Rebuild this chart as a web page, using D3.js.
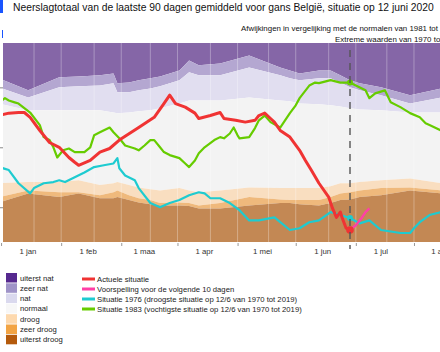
<!DOCTYPE html>
<html>
<head>
<meta charset="utf-8">
<script src="https://cdn.jsdelivr.net/npm/d3@7"></script>
<style>
body { margin: 0; background: #fff; }
svg { display: block; font-family: "Liberation Sans", Arial, Helvetica, sans-serif; }
</style>
</head>
<body>
<div class="svg_container"></div>
<script>
// grenzen van de klassen (mm neerslag over 90 dagen)
var bandDates = ["2019-12-14", "2019-12-29", "2020-01-14", "2020-01-24", "2020-02-04", "2020-02-11",
    "2020-02-13", "2020-02-19", "2020-02-24", "2020-03-01", "2020-03-06", "2020-03-16", "2020-03-21",
    "2020-03-26", "2020-04-06", "2020-04-21", "2020-05-07", "2020-05-12", "2020-05-17", "2020-05-27",
    "2020-06-02", "2020-06-07", "2020-06-12", "2020-06-17", "2020-06-28", "2020-07-13", "2020-07-29",
    "2020-08-05"];
var grensUiterstNat = [315, 295, 317, 318, 320, 323, 307, 308, 312, 315, 318, 328, 345, 337, 340, 353,
    333, 328, 323, 328, 328, 320, 312, 307, 300, 287, 298, 302];
var grensZeerNat = [300, 283, 300, 302, 303, 307, 292, 292, 295, 298, 302, 312, 325, 320, 320, 333,
    320, 315, 312, 315, 315, 308, 300, 295, 287, 273, 283, 287];
var grensNat = [273, 262, 262, 262, 262, 258, 257, 258, 260, 262, 265, 273, 278, 278, 278, 283,
    278, 277, 273, 272, 270, 268, 265, 263, 262, 258, 258, 258];
var grensDroog = [140, 142, 142, 145, 137, 140, 142, 137, 133, 130, 128, 132, 128, 125, 128, 133,
    132, 132, 132, 132, 135, 140, 140, 142, 145, 148, 140, 140];
var grensZeerDroog = [117, 128, 125, 125, 120, 125, 128, 120, 115, 112, 107, 108, 107, 103, 107, 117,
    113, 112, 112, 112, 117, 123, 125, 128, 132, 133, 128, 128];
var grensUiterstDroog = [108, 123, 117, 123, 115, 115, 117, 112, 108, 105, 103, 103, 102, 98, 98, 103,
    107, 107, 105, 103, 107, 112, 113, 117, 120, 128, 123, 123];

// actuele situatie
var actueelDates = ["2019-12-14", "2019-12-19", "2019-12-24", "2019-12-27", "2019-12-30", "2020-01-04",
    "2020-01-09", "2020-01-14", "2020-01-19", "2020-01-22", "2020-01-24", "2020-01-30", "2020-02-04",
    "2020-02-09", "2020-02-14", "2020-02-24", "2020-03-03", "2020-03-08", "2020-03-11", "2020-03-14",
    "2020-03-19", "2020-03-24", "2020-03-26", "2020-04-01", "2020-04-06", "2020-04-08", "2020-04-14",
    "2020-04-19", "2020-04-24", "2020-04-26", "2020-04-29", "2020-05-02", "2020-05-04", "2020-05-07",
    "2020-05-12", "2020-05-17", "2020-05-20", "2020-05-23", "2020-05-27", "2020-06-01", "2020-06-03",
    "2020-06-05", "2020-06-07", "2020-06-08", "2020-06-10", "2020-06-12"];
var actueelValues = [253, 257, 258, 258, 250, 228, 208, 200, 183, 175, 170, 178, 192, 198, 212, 233,
    250, 273, 287, 273, 267, 257, 248, 253, 258, 248, 245, 242, 245, 253, 257, 248, 242, 228, 217,
    195, 178, 162, 140, 117, 98, 83, 92, 82, 65, 62];

// voorspelling volgende 10 dagen
var voorspellingDates = ["2020-06-12", "2020-06-15", "2020-06-18", "2020-06-20", "2020-06-22"];
var voorspellingValues = [62, 70, 82, 92, 98];

// situatie 1976
var droog1976Dates = ["2019-12-14", "2019-12-19", "2019-12-24", "2019-12-30", "2020-01-01", "2020-01-06",
    "2020-01-11", "2020-01-14", "2020-01-17", "2020-01-22", "2020-01-27", "2020-02-01", "2020-02-06",
    "2020-02-11", "2020-02-13", "2020-02-14", "2020-02-17", "2020-02-22", "2020-02-24", "2020-03-01",
    "2020-03-06", "2020-03-11", "2020-03-16", "2020-03-21", "2020-03-26", "2020-03-29", "2020-04-01",
    "2020-04-06", "2020-04-11", "2020-04-16", "2020-04-21", "2020-04-26", "2020-05-04", "2020-05-12",
    "2020-05-17", "2020-05-22", "2020-05-27", "2020-06-02", "2020-06-07", "2020-06-12", "2020-06-17",
    "2020-06-22", "2020-06-28", "2020-07-08", "2020-07-13", "2020-07-15", "2020-07-18", "2020-07-23",
    "2020-07-29", "2020-08-03"];
var droog1976Values = [167, 162, 140, 123, 132, 140, 142, 145, 142, 150, 158, 167, 170, 173, 182, 165,
    153, 145, 132, 107, 100, 107, 112, 120, 125, 123, 115, 115, 107, 95, 78, 78, 83, 62, 65, 75, 78,
    92, 87, 82, 73, 78, 62, 57, 57, 65, 75, 87, 92, 95];

// situatie 1983
var nat1983Dates = ["2019-12-14", "2019-12-17", "2019-12-19", "2019-12-22", "2019-12-24", "2019-12-30",
    "2020-01-04", "2020-01-06", "2020-01-09", "2020-01-11", "2020-01-13", "2020-01-16", "2020-01-19",
    "2020-01-22", "2020-01-27", "2020-01-30", "2020-02-01", "2020-02-04", "2020-02-09", "2020-02-11",
    "2020-02-14", "2020-02-17", "2020-02-22", "2020-02-24", "2020-02-27", "2020-03-01", "2020-03-03",
    "2020-03-06", "2020-03-08", "2020-03-11", "2020-03-16", "2020-03-19", "2020-03-21", "2020-03-24",
    "2020-03-26", "2020-03-29", "2020-04-03", "2020-04-06", "2020-04-08", "2020-04-11", "2020-04-13",
    "2020-04-15", "2020-04-16", "2020-04-21", "2020-04-24", "2020-04-26", "2020-04-29", "2020-05-02",
    "2020-05-07", "2020-05-12", "2020-05-15", "2020-05-17", "2020-05-22", "2020-05-25", "2020-05-27",
    "2020-06-02", "2020-06-07", "2020-06-12", "2020-06-15", "2020-06-20", "2020-06-22", "2020-06-25",
    "2020-06-30", "2020-07-03", "2020-07-08", "2020-07-13", "2020-07-18", "2020-07-21", "2020-07-23",
    "2020-07-29", "2020-08-03"];
var nat1983Values = [275, 282, 278, 275, 273, 258, 237, 217, 212, 200, 183, 195, 198, 192, 192, 200,
    220, 225, 233, 225, 215, 203, 198, 195, 203, 212, 212, 200, 192, 187, 182, 173, 167, 178, 190,
    200, 212, 217, 215, 223, 233, 220, 215, 217, 232, 245, 253, 242, 233, 257, 270, 282, 303, 308,
    307, 312, 308, 308, 303, 295, 282, 290, 295, 275, 267, 257, 250, 240, 237, 228, 223];

var vandaag = "2020-06-12";
var yTicks = [100, 200, 300];
var monthLabels = ["1 jan", "1 feb", "1 maa", "1 apr", "1 mei", "1 jun", "1 jul", "1 aug"];

var klassen = ["uiterst nat", "zeer nat", "nat", "normaal", "droog", "zeer droog", "uiterst droog"];
var lijnen = ["Actuele situatie", "Voorspelling voor de volgende 10 dagen",
    "Situatie 1976 (droogste situatie op 12/6 van 1970 tot 2019)",
    "Situatie 1983 (vochtigste situatie op 12/6 van 1970 tot 2019)"];

const WIDTH = 440;
const HEIGHT = 352;
const LEFT = 3;
const TOP = 43;
const BOTTOM = 242;

var bandFill = ["#8566a7", "#b4a7d1", "#e1def0", "#f3f3f3", "#f9dec0", "#efb97c", "#c38854"];
var legendFill = ["#56298f", "#9f93c8", "#dad9ee", "#f7f7f7", "#fdd9ae", "#f2a444", "#b45a0c"];
var lineColor = ["#f03333", "#ff3fa6", "#1ecbd0", "#66cc00"];

var parse = d3.utcParse("%Y-%m-%d");

var x = d3.scaleUtc()
    .domain([parse("2019-12-16"), parse(vandaag)])
    .range([LEFT, 350]);

var y = d3.scaleLinear()
    .domain([42, 374])
    .range([BOTTOM, TOP]);

var svg = d3.select('.svg_container').append('svg')
    .attr('width', WIDTH)
    .attr('height', HEIGHT);

svg.append('clipPath').attr('id', 'plotclip')
    .append('rect')
    .attr('x', LEFT).attr('y', TOP)
    .attr('width', WIDTH - LEFT).attr('height', BOTTOM - TOP);

var plot = svg.append('g').attr('clip-path', 'url(#plotclip)');

// banden
var bandData = bandDates.map(function (d, i) {
    return {
        date: parse(d),
        b: [y.domain()[1], grensUiterstNat[i], grensZeerNat[i], grensNat[i],
            grensDroog[i], grensZeerDroog[i], grensUiterstDroog[i], y.domain()[0]]
    };
});

bandFill.forEach(function (c, k) {
    var area = d3.area()
        .x(function (d) { return x(d.date); })
        .y0(function (d) { return y(d.b[k + 1]); })
        .y1(function (d) { return y(d.b[k]); });
    plot.append('path')
        .attr('d', area(bandData))
        .attr('fill', c);
});

// rasterlijnen
var gridDates = [];
d3.utcMonths(parse("2019-12-01"), parse("2020-09-01")).forEach(function (m) {
    gridDates.push(m);
    gridDates.push(d3.utcDay.offset(m, 14));
});
plot.selectAll('.grid').data(gridDates).enter().append('line')
    .attr('x1', function (d) { return x(d); })
    .attr('x2', function (d) { return x(d); })
    .attr('y1', TOP).attr('y2', BOTTOM)
    .attr('stroke', '#fff')
    .attr('stroke-opacity', 0.3)
    .attr('stroke-width', 1);

var line = d3.line()
    .x(function (d) { return x(d.date); })
    .y(function (d) { return y(d.v); });

var toPoints = function (dates, values) {
    return dates.map(function (d, i) { return {date: parse(d), v: values[i]}; });
};

var series = [
    {pts: toPoints(nat1983Dates, nat1983Values), color: lineColor[3], w: 2.2},
    {pts: toPoints(droog1976Dates, droog1976Values), color: lineColor[2], w: 2.2},
    {pts: toPoints(actueelDates, actueelValues), color: lineColor[0], w: 3},
    {pts: toPoints(voorspellingDates, voorspellingValues), color: lineColor[1], w: 2.4}
];

series.forEach(function (s) {
    plot.append('path')
        .attr('d', line(s.pts))
        .attr('fill', 'none')
        .attr('stroke', s.color)
        .attr('stroke-width', s.w)
        .attr('stroke-linejoin', 'round');
});

// punten op vandaag
var today = parse(vandaag);
[{pts: series[0].pts, c: lineColor[3], r: 3}, {pts: series[1].pts, c: lineColor[2], r: 3},
    {pts: series[2].pts, c: lineColor[0], r: 3.8}].forEach(function (s) {
    var p = s.pts.filter(function (d) { return +d.date === +today; })[0];
    plot.append('circle')
        .attr('cx', x(p.date)).attr('cy', y(p.v))
        .attr('r', s.r).attr('fill', s.c);
});

// vandaag
svg.append('line')
    .attr('x1', x(today)).attr('x2', x(today))
    .attr('y1', 50).attr('y2', 249)
    .attr('stroke', '#555')
    .attr('stroke-width', 1.4)
    .attr('stroke-dasharray', '7,6');

// assen
var xAxis = d3.axisBottom(x)
    .tickValues(d3.utcMonths(parse("2019-12-01"), parse("2020-08-01")).map(function (m) {
        return d3.utcDay.offset(m, 14);
    }))
    .tickSize(3)
    .tickFormat("");
var gx = svg.append('g')
    .attr('transform', 'translate(0,' + (BOTTOM + 1) + ')')
    .call(xAxis);
gx.select('.domain').remove();
gx.selectAll('.tick line').attr('stroke', '#999');

var labelDates = d3.utcMonths(parse("2020-01-01"), parse("2020-08-02"));
svg.append('g').selectAll('text').data(labelDates).enter().append('text')
    .attr('x', function (d) { return x(d) - 6; })
    .attr('y', 254)
    .attr('text-anchor', 'middle')
    .attr('font-size', '7.8px')
    .attr('fill', '#333')
    .text(function (d, i) { return monthLabels[i]; });

var yAxis = d3.axisLeft(y).tickValues(yTicks).tickSize(3).tickFormat("");
var gy = svg.append('g')
    .attr('transform', 'translate(' + LEFT + ',0)')
    .call(yAxis);
gy.select('.domain').remove();
gy.selectAll('.tick line').attr('stroke', '#888');

// titels
svg.append('rect').attr('x', 0).attr('y', 0).attr('width', 3).attr('height', 13).attr('fill', '#1a55ff');
svg.append('rect').attr('x', 2).attr('y', 30).attr('width', 1).attr('height', 8).attr('fill', '#1a55ff');

svg.append('text')
    .attr('x', 13).attr('y', 11)
    .attr('font-size', '10.3px')
    .attr('fill', '#111')
    .text("Neerslagtotaal van de laatste 90 dagen gemiddeld voor gans België, situatie op 12 juni 2020");

svg.append('text')
    .attr('x', 241).attr('y', 31)
    .attr('font-size', '7.9px')
    .attr('fill', '#111')
    .text("Afwijkingen in vergelijking met de normalen van 1981 tot 2010");

svg.append('text')
    .attr('x', 335).attr('y', 41.5)
    .attr('font-size', '7.9px')
    .attr('fill', '#111')
    .text("Extreme waarden van 1970 tot 2019");

// legende
var legL = svg.append('g');
klassen.forEach(function (k, i) {
    var yy = 273 + i * 10.3;
    legL.append('rect')
        .attr('x', 6).attr('y', yy)
        .attr('width', 11).attr('height', 9.5)
        .attr('fill', legendFill[i]);
    legL.append('text')
        .attr('x', 20).attr('y', yy + 7.5)
        .attr('font-size', '7.7px')
        .attr('fill', '#222')
        .text(k);
});

var legR = svg.append('g');
lijnen.forEach(function (k, i) {
    var yy = 279 + i * 10;
    legR.append('line')
        .attr('x1', 82).attr('x2', 95)
        .attr('y1', yy).attr('y2', yy)
        .attr('stroke', lineColor[i])
        .attr('stroke-width', 3);
    legR.append('text')
        .attr('x', 97).attr('y', yy + 2.7)
        .attr('font-size', '7.7px')
        .attr('fill', '#222')
        .text(k);
});
</script>
</body>
</html>
